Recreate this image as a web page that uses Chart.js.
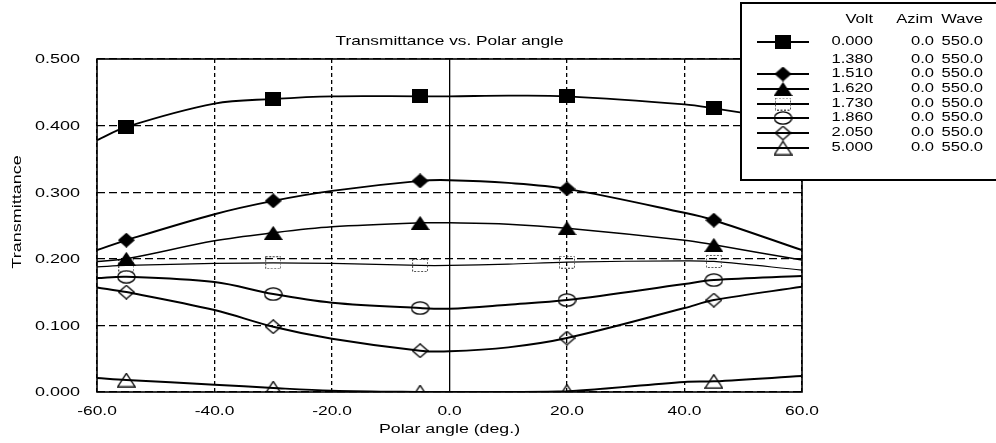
<!DOCTYPE html>
<html>
<head>
<meta charset="utf-8">
<script src="https://cdn.jsdelivr.net/npm/chart.js@4.4.1/dist/chart.umd.min.js"></script>
<style>
  body { margin: 0; background: #fff; }
  #wrap { position: relative; width: 996px; height: 443px; }
</style>
</head>
<body>
<div id="wrap"><canvas id="tvChart"></canvas></div>
<script>
'use strict';

// polar angles where the curves were read, and where the markers sit
const angles = [-60, -55, -40, -30, -20, -5, 0, 10, 20, 40, 45, 60];
const markerAngles = [-55, -30, -5, 20, 45];

// transmittance per drive voltage
const t0000 = [0.378, 0.398, 0.433, 0.440, 0.444, 0.444, 0.444, 0.445, 0.444, 0.432, 0.426, 0.405];
const t1510 = [0.213, 0.228, 0.267, 0.287, 0.302, 0.317, 0.318, 0.314, 0.305, 0.269, 0.258, 0.213];
const t1620 = [0.196, 0.200, 0.227, 0.239, 0.248, 0.254, 0.254, 0.252, 0.246, 0.228, 0.221, 0.198];
const t1730 = [0.188, 0.190, 0.193, 0.194, 0.193, 0.190, 0.190, 0.192, 0.195, 0.197, 0.196, 0.183];
const t1860 = [0.171, 0.173, 0.165, 0.147, 0.134, 0.126, 0.125, 0.131, 0.138, 0.162, 0.168, 0.174];
const t2050 = [0.157, 0.150, 0.123, 0.098, 0.080, 0.062, 0.061, 0.067, 0.081, 0.126, 0.138, 0.158];
const t5000 = [0.021, 0.018, 0.011, 0.006, 0.002, 0.000, 0.000, 0.000, 0.001, 0.015, 0.016, 0.024];

// legend columns
const volts = ['0.000', '1.380', '1.510', '1.620', '1.730', '1.860', '2.050', '5.000'];
const azims = ['0.0', '0.0', '0.0', '0.0', '0.0', '0.0', '0.0', '0.0'];
const waves = ['550.0', '550.0', '550.0', '550.0', '550.0', '550.0', '550.0', '550.0'];

const FONT = '"Liberation Sans", Arial, sans-serif';

// little canvases used as point styles
function makeMarker(w, h, draw) {
    const c = document.createElement('canvas');
    c.width = w;
    c.height = h;
    const g = c.getContext('2d');
    g.fillStyle = '#000';
    g.strokeStyle = '#000';
    g.lineWidth = 1.3;
    draw(g, w, h);
    return c;
}

const filledSquare = makeMarker(16, 14, (g, w, h) => g.fillRect(0, 0, w, h));
const filledDiamond = makeMarker(17, 15, (g, w, h) => {
    g.beginPath();
    g.moveTo(w / 2, 0); g.lineTo(w, h / 2); g.lineTo(w / 2, h); g.lineTo(0, h / 2);
    g.closePath();
    g.fill();
});
const filledTriangle = makeMarker(19, 14, (g, w, h) => {
    g.beginPath();
    g.moveTo(w / 2, 0); g.lineTo(w, h); g.lineTo(0, h);
    g.closePath();
    g.fill();
});
const openSquare = makeMarker(16, 13, (g, w, h) => {
    g.strokeStyle = '#555';
    g.lineWidth = 1;
    g.setLineDash([2, 1.5]);
    g.strokeRect(0.5, 0.5, w - 1, h - 1);
});
const openCircle = makeMarker(19, 14, (g, w, h) => {
    g.beginPath();
    g.ellipse(w / 2, h / 2, w / 2 - 0.8, h / 2 - 0.8, 0, 0, Math.PI * 2);
    g.stroke();
});
const openDiamond = makeMarker(17, 15, (g, w, h) => {
    g.beginPath();
    g.moveTo(w / 2, 0.8); g.lineTo(w - 0.8, h / 2); g.lineTo(w / 2, h - 0.8); g.lineTo(0.8, h / 2);
    g.closePath();
    g.stroke();
});
const openTriangle = makeMarker(19, 15, (g, w, h) => {
    g.beginPath();
    g.moveTo(w / 2, 0.8); g.lineTo(w - 0.8, h - 0.8); g.lineTo(0.8, h - 0.8);
    g.closePath();
    g.stroke();
});

// one entry per legend row; 1.380 has no curve on the plot
const series = [
    {volt: volts[0], values: t0000, marker: filledSquare, width: 1.8},
    {volt: volts[1], values: null, marker: null, width: 0},
    {volt: volts[2], values: t1510, marker: filledDiamond, width: 2},
    {volt: volts[3], values: t1620, marker: filledTriangle, width: 1.5},
    {volt: volts[4], values: t1730, marker: openSquare, width: 1.2},
    {volt: volts[5], values: t1860, marker: openCircle, width: 2},
    {volt: volts[6], values: t2050, marker: openDiamond, width: 2},
    {volt: volts[7], values: t5000, marker: openTriangle, width: 2},
];

const datasets = series.filter(s => s.values).map(s => ({
    label: s.volt,
    data: angles.map((a, i) => ({x: a, y: s.values[i]})),
    borderColor: '#000',
    backgroundColor: '#000',
    borderWidth: s.width,
    pointStyle: s.marker,
    pointRadius: c => (c.raw && markerAngles.includes(c.raw.x)) ? 6 : 0,
    tension: 0.35,
    fill: false,
}));

// stretched text, the original fonts are very wide
function drawText(ctx, text, x, y, align, size, sx) {
    ctx.save();
    ctx.translate(x, y);
    ctx.scale(sx, 1);
    ctx.font = size + 'px ' + FONT;
    ctx.fillStyle = '#000';
    ctx.textAlign = align;
    ctx.textBaseline = 'middle';
    ctx.fillText(text, 0, 0);
    ctx.restore();
}

const paperDecor = {
    id: 'paperDecor',
    afterDraw(chart) {
        const ctx = chart.ctx;
        const area = chart.chartArea;
        const xs = chart.scales.x;
        const ys = chart.scales.y;

        // plot frame
        ctx.save();
        ctx.strokeStyle = '#000';
        ctx.lineWidth = 1.6;
        ctx.strokeRect(area.left, area.top, area.right - area.left, area.bottom - area.top);
        ctx.restore();

        // tick labels
        ys.ticks.forEach(t => {
            drawText(ctx, t.value.toFixed(3), 80, ys.getPixelForValue(t.value) + 1, 'right', 12, 1.5);
        });
        xs.ticks.forEach(t => {
            drawText(ctx, t.value.toFixed(1), xs.getPixelForValue(t.value), 412, 'center', 12, 1.45);
        });

        // titles
        drawText(ctx, 'Transmittance vs. Polar angle', (area.left + area.right) / 2, 41, 'center', 13, 1.33);
        drawText(ctx, 'Polar angle (deg.)', (area.left + area.right) / 2, 430, 'center', 12, 1.48);
        ctx.save();
        ctx.translate(18, 212);
        ctx.rotate(-Math.PI / 2);
        drawText(ctx, 'Transmittance', 0, 0, 'center', 12, 1.5);
        ctx.restore();

        // legend box
        const box = {left: 741, top: 3, right: 1000, bottom: 180};
        ctx.save();
        ctx.fillStyle = '#fff';
        ctx.fillRect(box.left, box.top, box.right - box.left, box.bottom - box.top);
        ctx.strokeStyle = '#000';
        ctx.lineWidth = 2;
        ctx.strokeRect(box.left, box.top, box.right - box.left, box.bottom - box.top);
        ctx.restore();

        drawText(ctx, 'Volt', 873, 20, 'right', 12, 1.38);
        drawText(ctx, 'Azim', 933, 20, 'right', 12, 1.38);
        drawText(ctx, 'Wave', 983, 20, 'right', 12, 1.38);

        const rowY = [42, 60, 74, 89, 104, 118, 133, 148];
        series.forEach((s, i) => {
            const y = rowY[i];
            if (s.marker) {
                ctx.save();
                ctx.strokeStyle = '#000';
                ctx.lineWidth = 2;
                ctx.beginPath();
                ctx.moveTo(757, y);
                ctx.lineTo(809, y);
                ctx.stroke();
                ctx.drawImage(s.marker, 783 - s.marker.width / 2, y - s.marker.height / 2);
                ctx.restore();
            }
            drawText(ctx, volts[i], 873, y, 'right', 12, 1.38);
            drawText(ctx, azims[i], 934, y, 'right', 12, 1.38);
            drawText(ctx, waves[i], 983, y, 'right', 12, 1.38);
        });
    }
};

new Chart(document.getElementById('tvChart'), {
    type: 'line',
    data: {datasets},
    options: {
        responsive: true,
        maintainAspectRatio: false,
        animation: false,
        events: [],
        layout: {padding: {left: 97, right: 194, top: 59, bottom: 51}},
        plugins: {
            legend: {display: false},
            tooltip: {enabled: false},
            title: {display: false},
        },
        scales: {
            x: {
                type: 'linear',
                min: -60,
                max: 60,
                ticks: {stepSize: 20, display: false},
                grid: {color: '#000', lineWidth: 1.3, drawTicks: false},
                border: {display: false, dash: c => (c.tick && c.tick.value === 0) ? [] : [4, 3]},
            },
            y: {
                min: 0,
                max: 0.5,
                ticks: {stepSize: 0.1, display: false},
                grid: {color: '#000', lineWidth: 1.3, drawTicks: false},
                border: {display: false, dash: [8, 4]},
            },
        },
    },
    plugins: [paperDecor],
});
</script>
</body>
</html>
